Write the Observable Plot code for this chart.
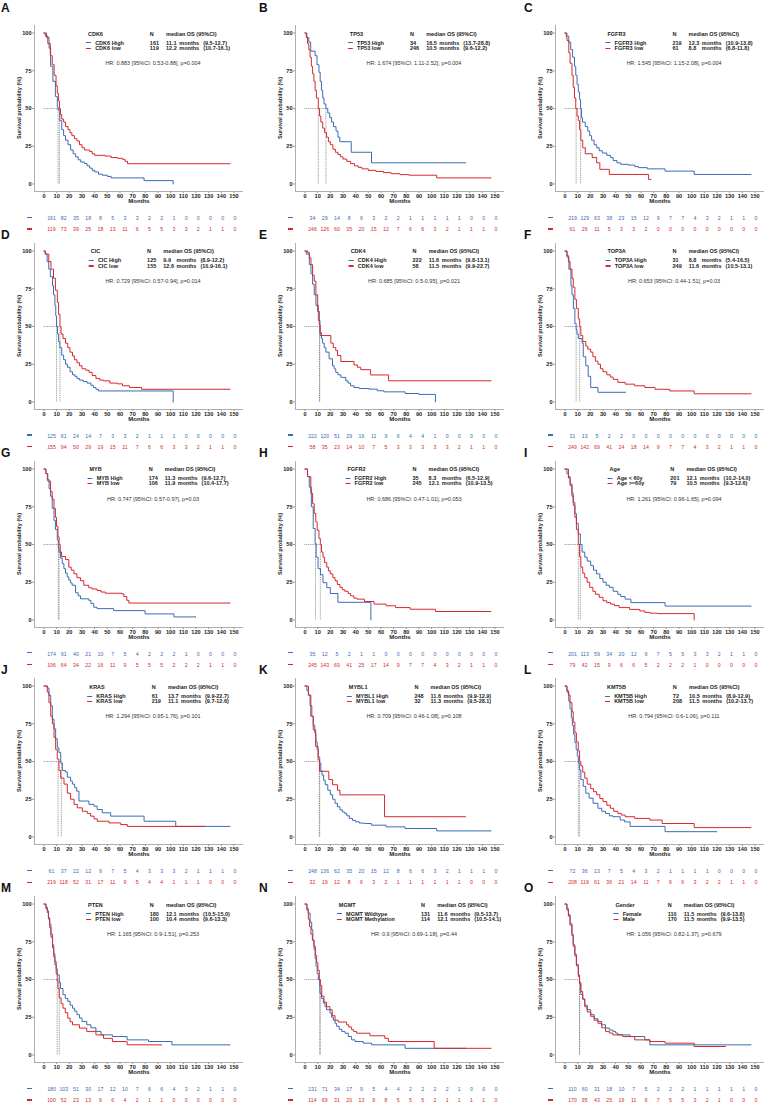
<!DOCTYPE html>
<html><head><meta charset="utf-8">
<script src="https://cdn.jsdelivr.net/npm/d3@7"></script>
<script src="https://cdn.jsdelivr.net/npm/@observablehq/plot@0.6"></script>
<style>
body{margin:0;background:#fff;font-family:"Liberation Sans",Arial,sans-serif;color:#222;}
#fig{position:relative;width:765px;height:1102px;overflow:hidden;background:#fff;}
.panel{position:absolute;width:260px;height:240px;}
.panel svg{position:absolute;left:0;}
.abs{position:absolute;white-space:nowrap;}
.letter{font-size:12px;font-weight:bold;line-height:12px;color:#111;}
.ytitle{font-size:5.6px;font-weight:bold;line-height:6px;transform:translate(-50%,-50%) rotate(-90deg);}
.xtitle{font-size:6px;font-weight:bold;line-height:6px;transform:translate(-50%,-50%);}
.hr{font-size:5.5px;line-height:6px;color:#333;transform:translate(-50%,-50%);}
.legend{display:grid;grid-template-columns:auto auto auto auto auto;grid-template-rows:9px 5.4px 5.4px;transform:translateX(-50%);font-size:5.5px;font-weight:bold;line-height:5.4px;color:#222;}
.legend .dash{display:inline-block;width:4.7px;height:1.1px;vertical-align:middle;margin-right:4.5px;position:relative;top:-0.3px;}
.rdash{height:1.2px;width:5px;}
svg g[aria-label$="tick label"]{font-weight:bold;}
svg g[aria-label$="-axis tick"]{stroke:#9a9a9a;}
</style>
</head><body>
<div id="fig"></div>
<script>
// ---------------- data ----------------
const panelLetters = ["A","B","C","D","E","F","G","H","I","J","K","L","M","N","O"];
const variables = ["CDK6","TP53","FGFR3","CIC","CDK4","TOP3A","MYB","FGFR2","Age","KRAS","MYBL1","KMT5B","PTEN","MGMT","Gender"];
const groupLabels = [
  ["CDK6 High","CDK6 low"],["TP53 High","TP53 low"],["FGFR3 High","FGFR3 low"],
  ["CIC High","CIC low"],["CDK4 High","CDK4 low"],["TOP3A High","TOP3A low"],
  ["MYB High","MYB low"],["FGFR2 High","FGFR2 low"],["Age < 60y","Age >=60y"],
  ["KRAS High","KRAS low"],["MYBL1 High","MYBL1 low"],["KMT5B High","KMT5B low"],
  ["PTEN High","PTEN low"],["MGMT Wildtype","MGMT Methylation"],["Female","Male"]
];
const groupN = [[161,119],[34,246],[219,61],[125,155],[222,58],[31,249],[174,106],[35,245],[201,79],[61,219],[248,32],[72,208],[180,100],[131,114],[110,170]];
const medianOS = [[11.1,12.2],[16.5,10.5],[12.3,8.8],[9.9,12.6],[11.6,11.5],[8.8,11.6],[11.3,11.9],[8.3,12.1],[12.1,10.5],[13.7,11.1],[11.6,11.3],[10.5,11.5],[12.1,10.4],[11.6,12.1],[11.5,11.5]];
const medianCI = [
  ["(9.5-12.7)","(10.7-16.1)"],["(13.7-28.8)","(9.6-12.2)"],["(10.9-13.8)","(6.8-11.8)"],
  ["(8.9-12.2)","(10.9-16.1)"],["(9.8-13.1)","(9.9-22.7)"],["(5.4-16.5)","(10.5-13.1)"],
  ["(9.6-12.7)","(10.4-17.7)"],["(6.5-12.9)","(10.9-13.5)"],["(10.2-14.0)","(9.3-12.6)"],
  ["(9.9-22.7)","(9.7-12.6)"],["(9.9-12.9)","(9.5-28.1)"],["(8.9-12.9)","(10.2-13.7)"],
  ["(10.5-15.0)","(9.6-13.3)"],["(9.5-13.7)","(10.5-14.1)"],["(9.6-13.8)","(9.9-13.5)"]
];
const hrTexts = [
  "HR: 0.883 [95%CI: 0.53-0.88], p=0.004","HR: 1.674 [95%CI: 1.11-2.52], p=0.004","HR: 1.545 [95%CI: 1.15-2.08], p=0.004",
  "HR: 0.729 [95%CI: 0.57-0.94], p=0.014","HR: 0.685 [95%CI: 0.5-0.95], p=0.021","HR: 0.653 [95%CI: 0.44-1.51], p=0.03",
  "HR: 0.747 [95%CI: 0.57-0.97], p=0.03","HR: 0.686 [95%CI: 0.47-1.01], p=0.053","HR: 1.261 [95%CI: 0.96-1.65], p=0.094",
  "HR: 1.294 [95%CI: 0.95-1.76], p=0.101","HR: 0.709 [95%CI: 0.46-1.08], p=0.108","HR: 0.794 [95%CI: 0.6-1.06], p=0.111",
  "HR: 1.165 [95%CI: 0.9-1.51], p=0.253","HR: 0.9 [95%CI: 0.69-1.18], p=0.44","HR: 1.056 [95%CI: 0.82-1.37], p=0.679"
];
const xTicks = [0,10,20,30,40,50,60,70,80,90,100,110,120,130,140,150];
const yTicks = [0,25,50,75,100];
const riskTimes = [0,10,20,30,40,50,60,70,80,90,100,110,120,130,140,150];
const riskHigh = [
  [161,82,35,18,8,5,3,3,2,2,1,0,0,0,0,0],[34,29,14,8,6,3,2,2,1,1,1,1,1,0,0,0],[219,129,63,38,23,15,12,9,7,7,4,3,2,1,1,0],
  [125,61,24,14,7,3,3,2,1,1,1,0,0,0,0,0],[222,120,51,29,16,11,9,6,4,4,1,0,0,0,0,0],[31,13,5,2,2,0,0,0,0,0,0,0,0,0,0,0],
  [174,91,40,21,10,7,5,4,2,2,2,1,0,0,0,0],[35,12,5,2,1,1,0,0,0,0,0,0,0,0,0,0],[201,113,59,34,20,12,9,7,5,5,3,3,2,1,1,0],
  [61,37,22,12,9,7,5,4,3,3,3,2,1,1,1,0],[248,136,62,35,20,15,12,8,6,6,3,2,1,1,1,0],[72,36,13,7,5,4,3,2,1,1,1,1,0,0,0,0],
  [180,103,51,30,17,12,10,7,6,6,4,3,2,1,1,0],[131,71,34,17,9,5,4,4,2,2,2,2,1,0,0,0],[110,60,31,18,10,7,5,2,2,2,1,1,1,1,1,0]
];
const riskLow = [
  [119,73,39,25,18,13,11,6,5,5,3,3,2,1,1,0],[246,126,60,35,20,15,12,7,6,6,3,2,1,1,1,0],[61,26,11,5,3,3,2,0,0,0,0,0,0,0,0,0],
  [155,94,50,29,19,15,11,7,6,6,3,3,2,1,1,0],[58,35,23,14,10,7,5,3,3,3,3,3,2,1,1,0],[249,142,69,41,24,18,14,9,7,7,4,3,2,1,1,0],
  [106,64,34,22,16,11,9,5,5,5,2,2,2,1,1,0],[245,143,69,41,25,17,14,9,7,7,4,3,2,1,1,0],[79,42,15,9,6,6,5,2,2,2,1,0,0,0,0,0],
  [219,118,52,31,17,11,9,5,4,4,1,1,1,0,0,0],[32,19,12,8,6,3,2,1,1,1,1,1,1,0,0,0],[208,119,61,36,21,14,11,7,6,6,3,2,2,1,1,0],
  [100,52,23,13,9,6,4,2,1,1,0,0,0,0,0,0],[114,69,31,20,13,9,8,5,5,5,2,1,1,1,1,0],[170,95,43,25,16,11,9,7,5,5,3,2,1,0,0,0]
];
// Kaplan-Meier step points [month, survival %] (first group = blue)
const kmHigh = [
  [[0,100],[2,97],[4,90],[5.2,78],[7,68],[9,58],[10.5,51],[11.1,49],[12.5,42],[14,36],[15.5,32],[17,29],[19,26],[21,22.5],[23,20],[25,18],[27,16],[29,14.5],[32,13.5],[34,12],[36,10.5],[38,9],[40,8],[43,6.5],[46,5.8],[50,5],[53,4],[79,2.2],[102,0]],
  [[0,100],[1.5,97],[3,94],[4.5,88],[8,85],[9.5,79],[11,74],[12,68],[13,62],[14,57],[15,53],[16.5,50],[18,47],[19.5,44],[21,41],[22.5,38],[24.5,35],[26,31],[27.5,28],[36.5,21],[52.5,14],[127,14]],
  [[0,100],[1.5,98],[3,94],[4.5,89],[6,84],[7.5,78],[8.5,72],[9.5,66],[10.5,61],[11.5,56],[12.3,50],[13,44],[13.8,41],[16,38],[18,35],[19.5,32],[21,29],[23,26],[25,24],[27,22],[29.5,20.5],[33,19],[36,17.5],[38,15.5],[41,14],[44,13],[50,12.5],[55,11.5],[58,10.8],[65,10],[79,8.5],[102,6.3],[147,6.3]],
  [[0,100],[1,98],[2.5,93],[3.75,88],[5,83],[6.75,77],[7.5,71],[8.6,64],[9.3,57],[9.9,50],[10.7,45],[11.5,40],[12.5,36],[14,31],[15.5,28],[17,25],[18.5,23],[20.6,20],[22.5,18],[24.4,17],[26,15.5],[28,14.5],[31,13.5],[34,12.5],[37,11],[39,9.5],[41,8.4],[43,7.3],[102,0]],
  [[0,100],[1,98],[3.4,91],[4.7,85],[6,78],[7.3,71],[8.6,64],[10.5,54],[11.8,46],[13,42],[13.9,39],[15.2,36],[16.5,33],[19,28.6],[21.7,24],[23,22],[24.3,19.6],[26,18],[28.3,16.3],[32.2,14],[34,12.5],[36,10.7],[38.7,9.6],[42.7,8.9],[50.5,8.5],[57,7.4],[62.3,6.7],[79,5.6],[90,5],[103,0]],
  [[0,100],[1.6,96],[3.1,88],[4.7,77],[5.5,71],[6.6,62],[7.8,52],[8.8,48],[9.5,45],[10.5,42],[13.5,39],[14.4,30],[16.4,24],[18.3,17],[20.3,9.6],[26,6.4],[48,6.4]],
  [[0,100],[1.5,97],[2.6,93],[4,87],[5.2,82],[6.5,74],[7.9,66],[9,60],[10.5,53],[11.3,48],[11.8,45],[13,41],[14.4,37.5],[15.7,34],[17,31],[18.3,28.5],[19.6,26.4],[21,24.5],[22.2,23],[24.9,18],[27,16],[28.8,14],[35.3,13],[37,11],[39.3,8.4],[41.9,7.5],[55,6.2],[79.8,4],[102.6,2],[120,2]],
  [[0,100],[2,95],[3.4,88],[5,75],[6.5,60.6],[8,50.6],[8.8,41.6],[10.3,34],[12.2,30],[14.2,24.7],[17.2,21.4],[20,17.5],[26,11.7],[52,0]],
  [[0,100],[1.5,97],[2.7,94],[4,89],[5.5,84],[6.5,78],[7.8,70.6],[9,64],[10.5,57],[12.1,50],[13.5,45],[15.6,41.6],[17.5,39],[20.3,36],[22.5,33],[25,30.5],[27.5,27.5],[30,25],[32.5,23],[35,21.6],[38,19],[41.7,17],[44,15.5],[47.5,13.8],[52,11.5],[79,9.2],[147,9.2]],
  [[0,100],[2.6,98.7],[3.9,93.8],[5.3,87],[6.6,78],[7.9,71.6],[9.2,65],[10.5,59],[11.8,56],[13.2,49],[14.5,44],[17,43],[18.4,39.6],[21,37],[22.4,35],[24.2,32.7],[25.8,30.4],[27.6,23.8],[35.5,21.6],[39.5,20.4],[42,18.2],[46,16],[52.6,13.8],[79,10.4],[104,7],[147,7]],
  [[0,100],[1.5,97],[2.7,94],[4,87],[5.4,80],[6.5,74],[7.7,69],[8.6,63],[9.6,58],[10.5,53],[11.6,49],[12.5,44],[13.4,41],[14.7,37.5],[16,34.6],[18,31],[20,28],[21.8,25],[23.7,22.3],[25.6,20],[27.6,18],[29.5,16.5],[31.4,15.6],[33,14],[35,12.3],[37.5,11],[40,10],[43,9.2],[47,8.9],[52.4,7.8],[64,6.7],[79,5.6],[104,4],[147,4]],
  [[0,100],[1.6,96],[3,90],[3.9,85],[5,79],[5.8,74],[6.8,68],[7.8,62.5],[8.8,58],[9.7,53.6],[10.5,49],[11.3,44.6],[12.5,38],[14.4,33.5],[16.4,29],[19,25.7],[22.2,22.3],[26,19],[29,17],[32,15.6],[35,14],[37.8,13.4],[43.6,11.2],[47,10],[51.4,7],[79,3.5],[120,3.5]],
  [[0,100],[1.5,98],[2.6,95.6],[3.5,91],[4.5,86.7],[5.5,80],[6.75,73],[7.7,67],[8.6,62],[9.6,57],[10.5,53],[12.1,48],[13,44],[15,40],[16.8,37.5],[18.75,35.6],[20.6,33],[22.5,31],[24.2,29],[26,26.7],[28,24.5],[30,22.2],[33.75,20],[37,18],[41,15.6],[45,13.3],[54,12.2],[65.6,10],[82.5,8.9],[101,6.7],[147,6.7]],
  [[0,100],[1.5,97],[2.6,94],[4,88],[5.3,83],[6.2,76],[7.1,70],[8,64],[8.7,59],[9.6,54],[10.5,50],[11.6,46],[11.8,41],[13,37.5],[14.5,34.4],[15.8,32],[17,30],[19.7,27.8],[21,25],[22.4,23],[23.7,21],[25,19],[27,17],[29,15.6],[31.6,14.4],[34.2,12.2],[36.8,10],[39.5,8.9],[46,7.8],[52.6,6.7],[79,4.4],[127,4.4]],
  [[0,100],[1.5,97],[2.7,93],[4,87],[5.5,80],[6.5,73],[7.8,66.7],[9,60],[10.5,53],[11.5,47],[12.5,40],[14,37],[15.6,33],[17.5,30],[20.3,26.7],[23,24],[26,22.2],[29,20],[32,17.8],[35,16.5],[37.8,15.6],[40,14.5],[41.7,13.3],[51.4,12.2],[63,10],[67,6.7],[147,6.7]]
];
const kmLow = [
  [[0,100],[1,98],[3,93],[5,85],[6.5,79],[8,72],[9.5,65],[10.5,60],[11.5,55],[12.2,50],[13,46],[14,43],[15.5,41],[17,38],[19,36],[20.5,34],[22,32],[24,30],[26,28.5],[28,26],[30,24],[32,22.5],[36,21.5],[38,20],[40,19],[48,18.5],[53,17.5],[58,17],[62,16.3],[64,15],[66,13.4],[147,13.4]],
  [[0,100],[1,97],[2,93],[3,89],[4,84],[5,78],[6,73],[7,68],[8,62],[9,57],[10.5,50],[11.5,45],[12.5,41],[14,37],[15.5,34],[17,31],[18.5,28],[20,26],[22,23],[24,21],[26,19.5],[28,18],[30,16.5],[33,15],[36,13.5],[39,12],[42,11],[45,10],[50,9],[56,8.3],[62,7.5],[68,6.8],[75,6.2],[82,5.8],[104,4],[147,4]],
  [[0,100],[1,97],[1.6,95],[3,87],[4,80],[5.5,72],[6.5,64],[7.5,57],[8.5,50],[9.5,45],[10.5,42],[11.5,36],[12.5,29],[14,24],[16,20],[21.5,17.5],[25,14],[27.5,9.7],[35,6.3],[66,3],[68,3]],
  [[0,100],[1,98],[3.75,93],[5.5,88],[7.5,82],[9,74],[10.5,66],[11.5,58],[12.6,50],[13.5,45],[15,42],[17,39],[18.75,36],[20.5,33],[22.5,30.5],[24,28],[26,26],[28,24],[30,22],[33,21],[35.6,19.6],[38,17.5],[41,15.6],[44,14.5],[47,14],[52,12.5],[58,12],[62,10.7],[67.5,9.6],[77,8.4],[147,8.4]],
  [[0,100],[2,99],[3.4,95.5],[4.7,91],[6,84],[7.3,80],[8.6,71],[10,60],[11.3,51],[12,44],[20.4,39],[22.3,36],[24.3,34],[25.7,30.8],[28.3,26.8],[38.7,24.5],[41.4,23],[44,21.4],[51.8,17.9],[66,14],[147,14]],
  [[0,100],[1.5,97],[2.7,93],[4,88],[5.5,82],[6.5,76],[7.8,68],[9,62],[10.5,55],[11.6,50],[12.5,44],[14,40],[16.4,37],[18,35],[20.3,33],[22,30],[24,27],[26,25],[28,22],[30,20],[33,18],[35.8,16.5],[38,15],[41.7,13],[47.5,11.8],[55,10.7],[63,9.6],[71,8.4],[82.6,7.3],[102,5.4],[147,5.4]],
  [[0,100],[1.5,97],[3,92],[5.2,85],[6.5,80],[7.9,74],[9,68],[9.9,62],[11,55],[11.9,50],[12.8,45],[13.9,42],[17,40],[19.6,35],[21.5,33],[23.6,30.6],[26,28],[28.8,26],[31.4,23],[35.3,21.3],[38,20.5],[41.9,19.5],[45,18.5],[48.4,17.7],[61.5,17.3],[63,15.5],[65.4,13],[67,11.2],[147,11.2]],
  [[0,100],[2,95],[4.6,84],[6,77],[7.3,70.6],[8.5,65],[9.6,59.5],[11,54],[12.1,50],[13,45],[14.2,41.6],[15.5,38],[17.2,35],[18.5,32.5],[20,30.5],[22,28],[23.7,26],[25.5,23.5],[27.6,21.6],[29.5,20],[31.4,19],[34,17.5],[36,16],[38.5,14.5],[41,13.8],[47,12.2],[54.5,10.5],[64,9.4],[71.5,8.2],[83,7.1],[103,5.6],[147,5.6]],
  [[0,100],[2.7,95],[4,90],[5.5,82],[6.5,76],[7.8,68],[9,60],[10.5,50],[11.5,42],[12.5,35],[14,31],[15.6,28],[17.5,25],[19.5,21.6],[22,19],[24,17],[27,15],[30,12.7],[33,11.5],[36,10.5],[39,9.5],[42.8,8.2],[51,7],[59,6],[63,5],[67,4.5],[73,4.2],[102,0]],
  [[0,100],[2.6,96],[3.9,89],[5.3,80],[6.6,75],[7.9,66],[9.2,58],[10.5,51.6],[11.8,44],[13.2,39],[15.8,35],[18.4,29],[21,25],[23.7,21.6],[26.3,19.3],[30.3,17],[34.2,15.6],[36.8,13.8],[39.5,12],[42,10.4],[51.3,9.3],[60.5,8.2],[65.8,7],[127,7]],
  [[0,100],[2.7,94],[4.6,80],[6.5,71],[8.4,60],[10.3,51],[11.5,43.5],[18.8,38],[21.8,34.6],[25.6,31],[27.6,27.9],[62.8,13.4],[127,13.4]],
  [[0,100],[1.5,97],[2.7,94],[4,89],[5.5,83],[6.5,76],[7.8,69],[9,63],[10.5,57],[11.5,50],[12.5,47],[14,43],[15.6,39],[17.5,35],[20.3,32],[22.5,30],[25,28],[27.5,25.5],[30,23.4],[33,21],[35.8,19],[38.5,17],[41.7,15.6],[44.5,14.5],[47.5,13.4],[55,12.3],[67,11.2],[76.7,8.9],[102,6.2],[147,6.2]],
  [[0,100],[1.5,97],[2.6,94.4],[3.5,90],[4.5,84.4],[5.5,78],[6.75,71],[7.7,65],[8.6,60],[9.6,54],[10.4,49],[11,44],[12,37.8],[13.5,34],[15,31],[16.8,28],[18.75,24.4],[20.6,22],[22.5,20],[28,17.8],[33.75,15.6],[41,13.3],[47,11],[54,8.9],[65.6,6.7],[93,6.7]],
  [[0,100],[1.5,96],[2.6,90],[3.6,85],[4.7,80],[5.8,76],[7.1,72],[8.2,66],[9.2,61],[10.2,56],[11.3,50],[12.1,46],[13.2,39],[15,35],[17,32],[19.7,30],[21.5,26],[23.7,23],[26.3,21.8],[32.9,20],[34.5,18.5],[36.8,16.7],[38.5,15.5],[40.8,14.4],[51.3,12.7],[63,11],[65.8,8.9],[102,4.4],[147,4.4]],
  [[0,100],[1.5,96],[2.7,92],[4,86],[5.5,79],[6.5,72],[7.8,65.6],[9,59],[10.5,52],[11.5,48],[12.5,42],[14,37],[15.6,32],[17.5,28.5],[20.3,25.6],[23,23],[26,21],[29,18],[32,15.6],[35,14.5],[37.8,13.3],[45.6,12.2],[55,10],[67,8.9],[79,7.8],[102,5.6],[127,5.6]]
];

// ---------------- style / layout ----------------
const BLUE = "#3a6cb4", RED = "#d7282c", AXIS_GRAY = "#9a9a9a", MED_GRAY = "#555";
const FONT = "'Liberation Sans', Arial, sans-serif";
const MEDIAN_LEVEL = 50;
const xDomain = [-7.5, 157.5], yDomain = [-5, 105];
const colX = [0, 261, 521], ROW_STEP = 217.75;
const letterX = [1, 259, 524];

const fig = document.getElementById("fig");
function el(cls, text, x, y, parent){
  const d = document.createElement("div");
  d.className = "abs " + cls; d.textContent = text;
  d.style.left = x + "px"; d.style.top = y + "px";
  parent.appendChild(d); return d;
}
const pts = a => a.map(([t, s]) => ({t, s}));

variables.forEach((v, i) => {
  const col = i % 3, row = Math.floor(i / 3);
  const panel = document.createElement("div");
  panel.className = "panel";
  panel.style.left = colX[col] + "px";
  panel.style.top = (row * ROW_STEP) + "px";
  fig.appendChild(panel);

  const meds = medianOS[i];
  const km = Plot.plot({
    width: 244, height: 208,
    marginLeft: 34, marginRight: 1, marginTop: 25, marginBottom: 17,
    style: {fontFamily: FONT, fontSize: "5.6px", background: "transparent", color: "#222", overflow: "visible"},
    x: {domain: xDomain},
    y: {domain: yDomain},
    marks: [
      Plot.ruleX([xDomain[0]], {stroke: AXIS_GRAY, strokeWidth: 0.8}),
      Plot.ruleY([yDomain[0]], {stroke: AXIS_GRAY, strokeWidth: 0.8}),
      Plot.axisX(xTicks, {tickSize: 2, tickPadding: 1, label: null, stroke: AXIS_GRAY, fill: "#222"}),
      Plot.axisY(yTicks, {tickSize: 2, tickPadding: 1, label: null, stroke: AXIS_GRAY, fill: "#222"}),
      Plot.ruleY([{y: MEDIAN_LEVEL, x1: 0, x2: Math.max(...meds)}], {y: "y", x1: "x1", x2: "x2", stroke: MED_GRAY, strokeWidth: 0.6, strokeDasharray: "1,0.8"}),
      Plot.ruleX(meds.map(m => ({x: m, y1: 0, y2: MEDIAN_LEVEL})), {x: "x", y1: "y1", y2: "y2", stroke: MED_GRAY, strokeWidth: 0.6, strokeDasharray: "1,0.8"}),
      Plot.line(pts(kmHigh[i]), {x: "t", y: "s", curve: "step-after", stroke: BLUE, strokeWidth: 1}),
      Plot.line(pts(kmLow[i]), {x: "t", y: "s", curve: "step-after", stroke: RED, strokeWidth: 1})
    ]
  });
  km.style.top = "0px";
  panel.appendChild(km);

  // risk table
  const rowsH = riskTimes.map((t, k) => ({t, g: "high", n: riskHigh[i][k]}));
  const rowsL = riskTimes.map((t, k) => ({t, g: "low", n: riskLow[i][k]}));
  const risk = Plot.plot({
    width: 244, height: 24,
    marginLeft: 51, marginRight: 9.5, marginTop: 0, marginBottom: 0,
    style: {fontFamily: FONT, fontSize: "5.2px", background: "transparent", overflow: "visible"},
    x: {domain: [riskTimes[0], riskTimes[riskTimes.length - 1]], axis: null},
    y: {type: "point", domain: ["high", "low"], range: [6.3, 18], padding: 0, axis: null},
    marks: [
      Plot.text(rowsH, {x: "t", y: "g", text: d => String(d.n), fill: BLUE, fontSize: 5.2}),
      Plot.text(rowsL, {x: "t", y: "g", text: d => String(d.n), fill: RED, fontSize: 5.2})
    ]
  });
  risk.style.top = "211px";
  panel.appendChild(risk);
  [BLUE, RED].forEach((c, k) => {
    const d = el("rdash", "", 26.7, (k === 0 ? 217.3 : 229) - 0.6, panel);
    d.style.background = c;
  });

  // texts
  el("letter", panelLetters[i], letterX[col] - colX[col], (row === 0 ? 8.3 : 17) - 6, panel);
  el("ytitle", "Survival probability (%)", 19, 108, panel);
  el("xtitle", "Months", 139, 201, panel);
  el("hr", hrTexts[i], 153, 63, panel);

  // legend table
  const lg = document.createElement("div");
  lg.className = "abs legend";
  lg.style.left = "158px"; lg.style.top = "31.6px";
  const cell = (html, style) => { const c = document.createElement("div"); c.innerHTML = html; if (style) c.style.cssText = style; lg.appendChild(c); return c; };
  cell(v, "padding-left:2px");
  cell("N", "padding-left:26px");
  cell("median OS (95%CI)", "grid-column:3 / span 3;padding-left:7px");
  [0, 1].forEach(k => {
    const c = cell("", "");
    const dash = document.createElement("span"); dash.className = "dash"; dash.style.background = k === 0 ? BLUE : RED;
    c.appendChild(dash); c.appendChild(document.createTextNode(groupLabels[i][k]));
    cell(String(groupN[i][k]), "padding-left:26px");
    cell(meds[k].toFixed(1), "padding-left:7px");
    cell("months", "padding-left:2.5px");
    cell(medianCI[i][k], "padding-left:4px");
  });
  panel.appendChild(lg);
});
</script>
</body></html>
